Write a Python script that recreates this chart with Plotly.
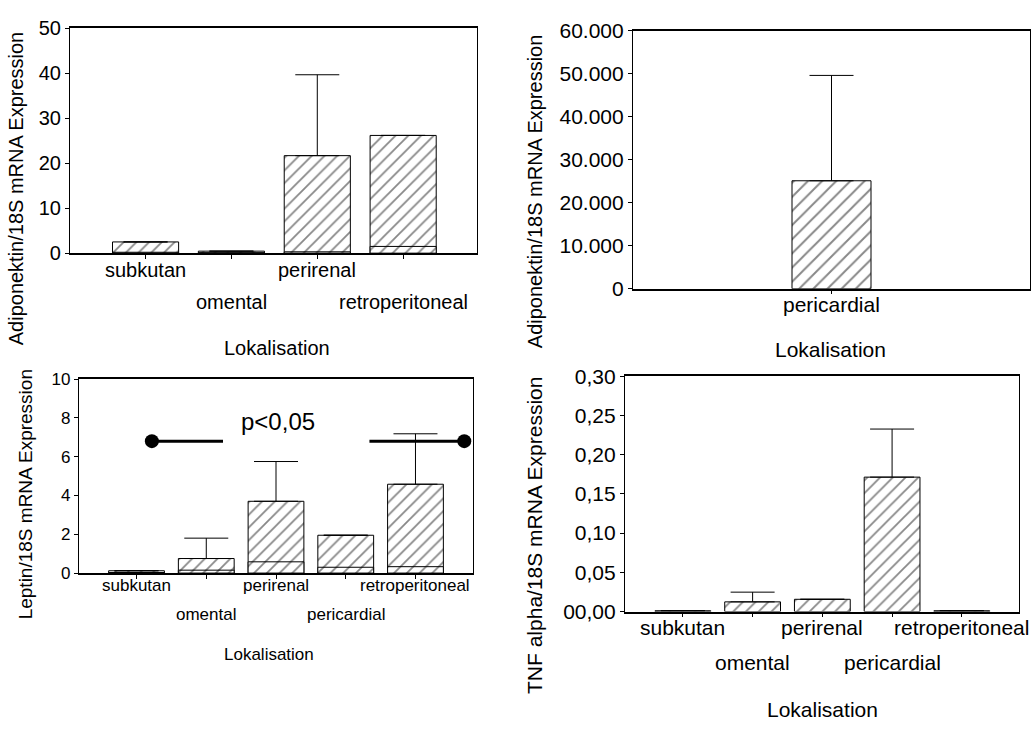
import plotly.graph_objects as go

FONT = "Liberation Sans, Arial, sans-serif"
W, H = 1034, 731

# ---------------- data ----------------
# Panel A: Adiponektin (4 Lokalisationen)
adipo_cats = ["subkutan", "omental", "perirenal", "retroperitoneal"]
adipo_mean = [2.5, 0.45, 21.7, 26.2]
adipo_inner = [0.2, 0.1, 0.3, 1.5]
adipo_err = [None, None, 18.0, None]
adipo_yticks = [0, 10, 20, 30, 40, 50]
adipo_yticktext = ["0", "10", "20", "30", "40", "50"]

# Panel B: Adiponektin pericardial
peri_cats = ["pericardial"]
peri_mean = [25100]
peri_err = [24500]
peri_yticks = [0, 10000, 20000, 30000, 40000, 50000, 60000]
peri_yticktext = ["0", "10.000", "20.000", "30.000", "40.000", "50.000", "60.000"]

# Panel C: Leptin
lep_cats = ["subkutan", "omental", "perirenal", "pericardial", "retroperitoneal"]
lep_mean = [0.12, 0.75, 3.7, 1.95, 4.58]
lep_inner = [0.03, 0.15, 0.58, 0.3, 0.33]
lep_err = [None, 1.05, 2.05, None, 2.6]
lep_yticks = [0, 2, 4, 6, 8, 10]
lep_yticktext = ["0", "2", "4", "6", "8", "10"]
sig_y = 6.8
sig_left_x = [0.22, 1.24]
sig_right_x = [3.34, 4.70]
sig_text = "p<0,05"

# Panel D: TNF alpha
tnf_cats = ["subkutan", "omental", "perirenal", "pericardial", "retroperitoneal"]
tnf_mean = [0.001, 0.0123, 0.0156, 0.1713, 0.001]
tnf_err = [None, 0.0124, None, 0.0613, None]
tnf_yticks = [0, 0.05, 0.10, 0.15, 0.20, 0.25, 0.30]
tnf_yticktext = ["00,00", "0,05", "0,10", "0,15", "0,20", "0,25", "0,30"]

ytitle_adipo = "Adiponektin/18S mRNA Expression"
ytitle_lep = "Leptin/18S mRNA Expression"
ytitle_tnf = "TNF alpha/18S mRNA Expression"
xtitle = "Lokalisation"

# ---------------- helpers ----------------
def px_x(p):
    return p / W

def px_y(p):
    return 1 - p / H

fig = go.Figure()

def add_bars(xref, yref, values, inner, err, width, psize):
    n = len(values)
    xs = list(range(n))
    pattern = dict(shape="/", fgcolor="#111111", bgcolor="white", size=psize, solidity=0.2)
    ekw = {}
    if err is not None:
        ekw["error_y"] = dict(type="data", symmetric=False,
                              array=[e if e is not None else 0 for e in err],
                              arrayminus=[0] * n,
                              color="black", thickness=1, width=22,
                              visible=True)
    fig.add_trace(go.Bar(x=xs, y=values, width=width, xaxis=xref, yaxis=yref,
                         marker=dict(color="white", pattern=pattern,
                                     line=dict(color="black", width=1)),
                         showlegend=False, hoverinfo="skip", **ekw))
    if inner is not None:
        fig.add_trace(go.Bar(x=xs, y=inner, width=width, xaxis=xref, yaxis=yref,
                             marker=dict(color="white", pattern=pattern,
                                         line=dict(color="black", width=1)),
                             showlegend=False, hoverinfo="skip"))

add_bars("x", "y", adipo_mean, adipo_inner, adipo_err, 0.77, 9)
add_bars("x2", "y2", peri_mean, None, peri_err, 0.8, 10)
add_bars("x3", "y3", lep_mean, lep_inner, lep_err, 0.8, 9)
add_bars("x4", "y4", tnf_mean, None, tnf_err, 0.8, 9)

# significance markers in leptin panel
for xs, sizes in ((sig_left_x, [14, 0]), (sig_right_x, [0, 14])):
    fig.add_trace(go.Scatter(x=xs, y=[sig_y, sig_y], xaxis="x3", yaxis="y3",
                             mode="lines", line=dict(color="black", width=3),
                             showlegend=False, hoverinfo="skip"))
    fig.add_trace(go.Scatter(x=xs, y=[sig_y, sig_y], xaxis="x3", yaxis="y3",
                             mode="markers",
                             marker=dict(size=sizes, color="black", opacity=1,
                                         line=dict(width=0)),
                             showlegend=False, hoverinfo="skip"))

def xaxis(domain, rng, n, anchor):
    return dict(domain=domain, range=rng, anchor=anchor,
                tickvals=list(range(n)), showticklabels=False,
                ticks="outside", ticklen=4, tickcolor="black",
                showline=True, linecolor="black", linewidth=1.5, mirror=True,
                showgrid=False, zeroline=False, fixedrange=True)

def yaxis(domain, rng, tv, tt, fsize, anchor):
    return dict(domain=domain, range=rng, anchor=anchor,
                tickvals=tv, ticktext=tt, tickfont=dict(size=fsize, color="black", family=FONT),
                ticks="outside", ticklen=4, tickcolor="black",
                showline=True, linecolor="black", linewidth=1.2, mirror=True,
                showgrid=False, zeroline=False, fixedrange=True)

d1x = [px_x(70), px_x(477)];  d1y = [px_y(249), px_y(17)]
d2x = [px_x(633), px_x(1030)]; d2y = [px_y(285.7), px_y(19.3)]
d3x = [px_x(79), px_x(473)];  d3y = [px_y(579.3), px_y(379)]
d4x = [px_x(625), px_x(1019)]; d4y = [px_y(619), px_y(376)]

fig.update_layout(
    width=W, height=H, margin=dict(l=0, r=0, t=0, b=0),
    paper_bgcolor="white", plot_bgcolor="white",
    barmode="overlay", font=dict(family=FONT, color="black"),
    xaxis=xaxis(d1x, [-0.88, 3.86], 4, "y"),
    yaxis=yaxis(d1y, [0, 50], adipo_yticks, adipo_yticktext, 20, "x"),
    xaxis2=xaxis(d2x, [-2.01, 2.01], 1, "y2"),
    yaxis2=yaxis(d2y, [0, 60000], peri_yticks, peri_yticktext, 21, "x2"),
    xaxis3=xaxis(d3x, [-0.825, 4.825], 5, "y3"),
    yaxis3=yaxis(d3y, [0, 10], lep_yticks, lep_yticktext, 17, "x3"),
    xaxis4=xaxis(d4x, [-0.83, 4.82], 5, "y4"),
    yaxis4=yaxis(d4y, [0, 0.30], tnf_yticks, tnf_yticktext, 21, "x4"),
)

ann = []

def cat_labels(cats, xref, y_upper, y_lower, fsize):
    for i, c in enumerate(cats):
        yy = y_upper if i % 2 == 0 else y_lower
        ann.append(dict(x=i, y=px_y(yy), xref=xref, yref="paper", text=c,
                        showarrow=False, xanchor="center", yanchor="middle",
                        font=dict(size=fsize, color="black", family=FONT)))

cat_labels(adipo_cats, "x", 266, 299, 20)
cat_labels(peri_cats, "x2", 302, 302, 21)
cat_labels(lep_cats, "x3", 592, 622, 17)
cat_labels(tnf_cats, "x4", 636, 672, 21)

def free_text(text, xp, yp, fsize, angle=0):
    ann.append(dict(x=px_x(xp), y=px_y(yp), xref="paper", yref="paper", text=text,
                    showarrow=False, xanchor="center", yanchor="middle", textangle=angle,
                    font=dict(size=fsize, color="black", family=FONT)))

free_text(xtitle, 277, 347, 20)
free_text(xtitle, 830, 348, 21)
free_text(xtitle, 269, 663, 17)
free_text(xtitle, 822, 720, 21)
free_text(ytitle_adipo, 16, 182, 20, -90)
free_text(ytitle_adipo, 535, 185, 20, -90)
free_text(ytitle_lep, 25, 498, 19, -90)
free_text(ytitle_tnf, 535, 541, 21, -90)

ann.append(dict(x=2.03, y=7.8, xref="x3", yref="y3", text=sig_text, showarrow=False,
                xanchor="center", yanchor="middle",
                font=dict(size=24, color="black", family=FONT)))

fig.update_layout(annotations=ann)
fig.write_html("out.html")
